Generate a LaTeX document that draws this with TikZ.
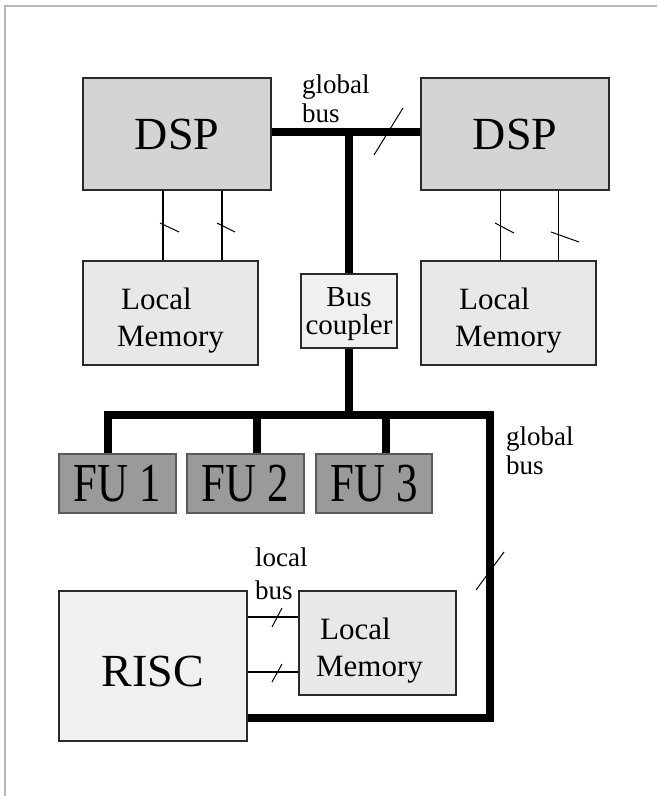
\documentclass[tikz,border=0pt]{standalone}
\usepackage{fontspec}
\setmainfont{Liberation Serif}
\usetikzlibrary{calc}
\definecolor{dspgray}{HTML}{D4D4D4}
\definecolor{memgray}{HTML}{E8E8E8}
\definecolor{lightgray}{HTML}{F0F0F0}
\definecolor{fugray}{HTML}{9A9A9A}
\definecolor{fuline}{HTML}{5A5A5A}
\definecolor{boxline}{HTML}{2A2A2A}
\definecolor{framegray}{HTML}{B8B8B8}
\tikzset{
  box/.style={draw=boxline, line width=1.2pt, inner sep=0pt, align=center},
  dspbox/.style={box, fill=dspgray, minimum width=188pt, minimum height=112pt, font=\fontsize{46}{55}\selectfont},
  membox/.style={box, fill=memgray, minimum width=175pt, minimum height=104pt, align=left, font=\fontsize{31}{37}\selectfont},
  fubox/.style={box, draw=fuline, fill=fugray, minimum width=117pt, minimum height=59pt, font=\fontsize{55}{60}\selectfont},
  bus/.style={line width=8pt},
  wire/.style={line width=1.2pt},
  tick/.style={line width=1pt},
  lbl/.style={inner sep=0pt, align=left, font=\fontsize{27}{29}\selectfont}
}
\begin{document}
\begin{tikzpicture}[x=1pt, y=-1pt]
  \useasboundingbox (0,0) rectangle (657,796);
  \draw[framegray, line width=2pt] (5,796) -- (5,6) -- (657,6);
  % processors and memories
  \node[dspbox] (dspL) at (177,134) {DSP};
  \node[dspbox] (dspR) at (515,134) {DSP};
  \node[membox] (memL) at (170.5,313) {\rule{0pt}{37pt}\hspace*{4pt}Local\\Memory};
  \node[membox] (memR) at (508.5,313) {\rule{0pt}{37pt}\hspace*{4pt}Local\\Memory};
  \node[box, fill=lightgray, minimum width=96pt, minimum height=74pt, font=\fontsize{29}{28}\selectfont] (coupler) at (349,311) {\rule{0pt}{26pt}Bus\\coupler};
  \node[fubox] (fu1) at (117.5,483.5) {\scalebox{0.78}[1]{FU 1}};
  \node[fubox] (fu2) at (245.5,483.5) {\scalebox{0.78}[1]{FU 2}};
  \node[fubox, minimum width=116pt] (fu3) at (374,483.5) {\scalebox{0.78}[1]{FU 3}};
  \node[box, fill=lightgray, minimum width=188pt, minimum height=150pt, font=\fontsize{46}{55}\selectfont] (risc) at (153,666) {\rule{0pt}{42pt}RISC};
  \node[membox, minimum width=157pt] (memB) at (377.5,643) {\rule{0pt}{37pt}\hspace*{4pt}Local\\Memory\hspace*{16pt}};
  % buses
  \coordinate (gb) at (349,132);
  \coordinate (fb) at (349,415);
  \coordinate (fbR) at (490,415);
  \coordinate (bb) at (490,718);
  \draw[bus] (dspL.east |- gb) -- (dspR.west |- gb);
  \draw[bus] (gb) -- (coupler.north);
  \draw[bus] (coupler.south) -- (fb);
  \draw[bus] ([xshift=-10pt]fu1.north) |- (fbR) -- (bb) -- (risc.east |- bb);
  \draw[bus] ([xshift=11.5pt]fu2.north) -- ([xshift=11.5pt]fu2.north |- fb);
  \draw[bus] ([xshift=12pt]fu3.north) -- ([xshift=12pt]fu3.north |- fb);
  % local connections
  \draw[wire] ([xshift=-14pt]dspL.south) -- ([xshift=-14pt]dspL.south |- memL.north);
  \draw[wire] ([xshift=45pt]dspL.south) -- ([xshift=45pt]dspL.south |- memL.north);
  \draw[wire] ([xshift=-14.5pt]dspR.south) -- ([xshift=-14.5pt]dspR.south |- memR.north);
  \draw[wire] ([xshift=43.5pt]dspR.south) -- ([xshift=43.5pt]dspR.south |- memR.north);
  \draw[wire] ([yshift=49pt]risc.east) -- ([yshift=49pt]risc.east -| memB.west);
  \draw[wire] ([yshift=-6pt]risc.east) -- ([yshift=-6pt]risc.east -| memB.west);
  % width marks
  \draw[tick] (374,155) -- (403,108);
  \draw[tick] (160,223) -- (179,232);
  \draw[tick] (217,223) -- (235,232);
  \draw[tick] (495,223) -- (514,233);
  \draw[tick] (551,232) -- (579,242);
  \draw[tick] (476,590) -- (504,552);
  \draw[tick] (272,627) -- (282,608);
  \draw[tick] (272,682) -- (282,664);
  % labels
  \node[lbl, anchor=west] (gbtop) at (302,99) {global\\bus};
  \node[lbl, anchor=west] (gbright) at (506,451) {global\\bus};
  \node[lbl, anchor=west, font=\fontsize{27}{33}\selectfont] (lbus) at (255,574) {local\\bus};
\end{tikzpicture}
\end{document}
